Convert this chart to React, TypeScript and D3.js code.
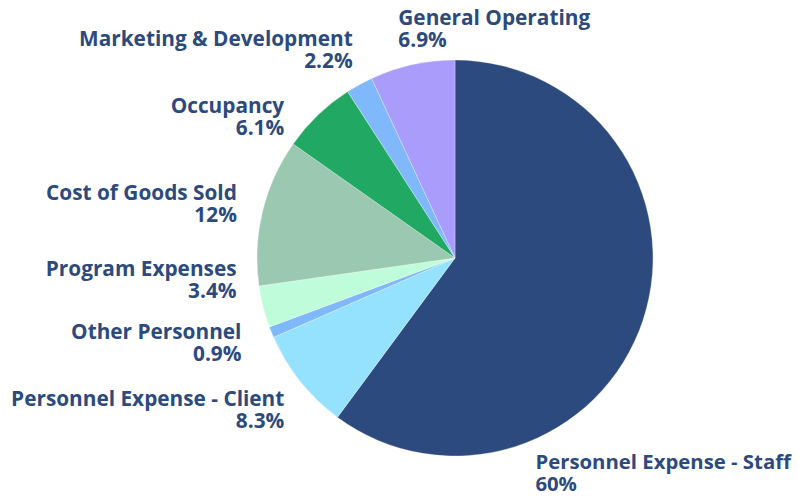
import * as d3 from 'd3';
import { useEffect, useRef } from 'react';

const categories = [
    'Personnel Expense - Staff',
    'Personnel Expense - Client',
    'Other Personnel',
    'Program Expenses',
    'Cost of Goods Sold',
    'Occupancy',
    'Marketing & Development',
    'General Operating'
];
const values = [60, 8.3, 0.9, 3.4, 12, 6.1, 2.2, 6.9];
const valueLabels = ['60%', '8.3%', '0.9%', '3.4%', '12%', '6.1%', '2.2%', '6.9%'];
const colors = ['#2d4a7e', '#94e2fd', '#80b8fc', '#bffcd9', '#9bc8b0', '#21a863', '#80b8fc', '#a99cfb'];

// label layout: nudge from the point just outside the slice middle, plus text anchor
const labelNudge = [
    [-121, 145, 'start'],
    [-5, 16, 'end'],
    [-17, 2, 'end'],
    [-13, -34, 'end'],
    [-12, -8, 'end'],
    [-24, 8, 'end'],
    [0, -26, 'end'],
    [-11, -26, 'start']
];

export default function App() {
    const ref = useRef<HTMLDivElement>(null);

    useEffect(() => {
        const width = 799;
        const height = 496;
        const cx = 455;
        const cy = 258;
        const radius = 198;
        const fontSize = 20.8;
        const textColor = '#2c4a7e';

        const svg = d3
            .create('svg')
            .attr('width', width)
            .attr('height', height)
            .style('display', 'block');

        const data = categories.map((c, i) => ({ name: c, value: values[i], i }));

        const pie = d3.pie<any>().value(d => d.value).sort(null);
        const arc = d3.arc<any>().innerRadius(0).outerRadius(radius);
        const labelArc = d3.arc<any>().innerRadius(radius + 14).outerRadius(radius + 14);

        const g = svg.append('g').attr('transform', `translate(${cx},${cy})`);

        g.selectAll('path')
            .data(pie(data))
            .join('path')
            .attr('d', arc)
            .attr('fill', d => colors[d.data.i])
            .attr('stroke', '#fff')
            .attr('stroke-width', 0.3);

        const labelGroups = g
            .selectAll('g.label')
            .data(pie(data))
            .join('g')
            .attr('class', 'label')
            .attr('font-family', '"Open Sans", sans-serif')
            .attr('font-weight', 700)
            .attr('font-size', fontSize)
            .attr('fill', textColor)
            .attr('text-anchor', d => labelNudge[d.data.i][2] as string)
            .attr('transform', d => {
                const [x, y] = labelArc.centroid(d);
                const n = labelNudge[d.data.i];
                return `translate(${x + (n[0] as number)},${y + (n[1] as number)})`;
            });

        labelGroups.append('text').attr('class', 'name').attr('y', 0).text(d => d.data.name);
        labelGroups.append('text').attr('y', 22).text(d => valueLabels[d.data.i]);

        ref.current?.append(svg.node()!);

        // shrink labels that would run past the right edge
        labelGroups.each(function (d: any) {
            const grp = d3.select(this);
            const node = grp.select<SVGTextElement>('text.name').node()!;
            const [x] = labelArc.centroid(d);
            const n = labelNudge[d.data.i];
            if (n[2] !== 'start') return;
            const left = cx + x + (n[0] as number);
            const w = node.getComputedTextLength();
            const room = width - 8 - left;
            if (w > room) grp.attr('font-size', fontSize * room / w);
        });

        return () => { svg.remove(); };
    }, []);

    return <div ref={ref} style={{ position: 'absolute', left: 0, top: 0 }}></div>;
}
